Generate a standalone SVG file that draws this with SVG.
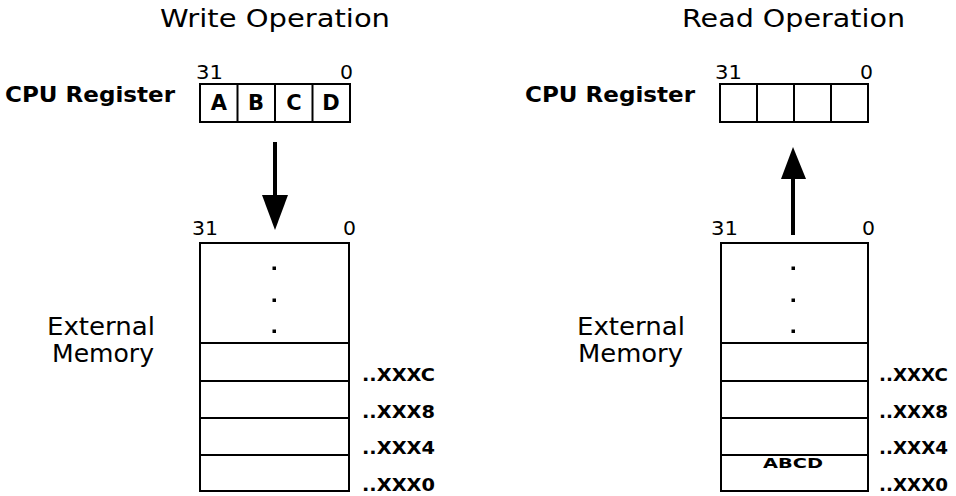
<svg xmlns="http://www.w3.org/2000/svg" width="956" height="496" viewBox="0 0 956 496">
<defs>
<style>
.title{font-family:"DejaVu Sans",Verdana,sans-serif;font-size:24px;fill:#000}
.lbl{font-family:"DejaVu Sans",Verdana,sans-serif;font-size:22px;font-weight:bold;fill:#000}
.mem{font-family:"DejaVu Sans",Verdana,sans-serif;font-size:24px;fill:#000}
.bit{font-family:"DejaVu Sans",sans-serif;font-size:19px;fill:#000}
.cell{font-family:"DejaVu Sans",Verdana,sans-serif;font-size:21px;font-weight:bold;fill:#000;text-anchor:middle}
.addr{font-family:"DejaVu Sans",Verdana,sans-serif;font-size:17px;font-weight:bold;fill:#000}
.data{font-family:"DejaVu Sans",Verdana,sans-serif;font-size:14px;font-weight:bold;fill:#000}
.box{fill:#fff;stroke:#000;stroke-width:2}
.ln{stroke:#000;stroke-width:2;fill:none}
.arrow{stroke:#000;stroke-width:4;fill:none}
.dot{fill:#000}
</style>
</defs>
<rect width="956" height="496" fill="#fff"/>

<g id="write-title"><text class="title" x="160" y="27" textLength="230" lengthAdjust="spacingAndGlyphs">Write Operation</text></g>
<g id="read-title"><text class="title" x="682" y="27" textLength="223" lengthAdjust="spacingAndGlyphs">Read Operation</text></g>

<g id="write-register">
<text class="lbl" x="5" y="102" textLength="170" lengthAdjust="spacingAndGlyphs">CPU Register</text>
<text class="bit" x="196" y="79" textLength="27" lengthAdjust="spacingAndGlyphs">31</text>
<text class="bit" x="340" y="79" textLength="13" lengthAdjust="spacingAndGlyphs">0</text>
<rect class="box" x="200" y="84" width="150" height="38"/>
<line class="ln" x1="237.5" y1="84" x2="237.5" y2="122"/>
<line class="ln" x1="275" y1="84" x2="275" y2="122"/>
<line class="ln" x1="312.5" y1="84" x2="312.5" y2="122"/>
<text class="cell" x="219" y="110">A</text>
<text class="cell" x="256" y="110">B</text>
<text class="cell" x="294" y="110">C</text>
<text class="cell" x="331" y="110">D</text>
</g>

<g id="read-register">
<text class="lbl" x="525" y="102" textLength="170" lengthAdjust="spacingAndGlyphs">CPU Register</text>
<text class="bit" x="715" y="79" textLength="27" lengthAdjust="spacingAndGlyphs">31</text>
<text class="bit" x="860" y="79" textLength="13" lengthAdjust="spacingAndGlyphs">0</text>
<rect class="box" x="720" y="84" width="148" height="38"/>
<line class="ln" x1="757" y1="84" x2="757" y2="122"/>
<line class="ln" x1="794" y1="84" x2="794" y2="122"/>
<line class="ln" x1="831" y1="84" x2="831" y2="122"/>
</g>

<g id="write-memory">
<text class="mem" x="47" y="335" textLength="108" lengthAdjust="spacingAndGlyphs">External</text>
<text class="mem" x="52" y="362" textLength="102" lengthAdjust="spacingAndGlyphs">Memory</text>
<text class="bit" x="192" y="235" textLength="26" lengthAdjust="spacingAndGlyphs">31</text>
<text class="bit" x="343" y="235" textLength="13" lengthAdjust="spacingAndGlyphs">0</text>
<rect class="box" x="200" y="243" width="149" height="248"/>
<line class="ln" x1="200" y1="343" x2="349" y2="343"/>
<line class="ln" x1="200" y1="381" x2="349" y2="381"/>
<line class="ln" x1="200" y1="418" x2="349" y2="418"/>
<line class="ln" x1="200" y1="455" x2="349" y2="455"/>
<rect class="dot" x="272.5" y="266.5" width="3.5" height="3.5"/>
<rect class="dot" x="272.5" y="298.5" width="3.5" height="3.5"/>
<rect class="dot" x="272.5" y="329.5" width="3.5" height="3.5"/>
<text class="addr" x="362" y="381" textLength="73" lengthAdjust="spacingAndGlyphs">..XXXC</text>
<text class="addr" x="362" y="418" textLength="73" lengthAdjust="spacingAndGlyphs">..XXX8</text>
<text class="addr" x="362" y="454" textLength="73" lengthAdjust="spacingAndGlyphs">..XXX4</text>
<text class="addr" x="362" y="491" textLength="73" lengthAdjust="spacingAndGlyphs">..XXX0</text>
</g>

<g id="read-memory">
<text class="mem" x="577" y="335" textLength="108" lengthAdjust="spacingAndGlyphs">External</text>
<text class="mem" x="578" y="362" textLength="105" lengthAdjust="spacingAndGlyphs">Memory</text>
<text class="bit" x="711" y="235" textLength="27" lengthAdjust="spacingAndGlyphs">31</text>
<text class="bit" x="862" y="235" textLength="13" lengthAdjust="spacingAndGlyphs">0</text>
<rect class="box" x="721" y="243" width="147" height="248"/>
<line class="ln" x1="721" y1="343" x2="868" y2="343"/>
<line class="ln" x1="721" y1="381" x2="868" y2="381"/>
<line class="ln" x1="721" y1="418" x2="868" y2="418"/>
<line class="ln" x1="721" y1="455" x2="868" y2="455"/>
<rect class="dot" x="791.5" y="266.5" width="3.5" height="3.5"/>
<rect class="dot" x="791.5" y="298.5" width="3.5" height="3.5"/>
<rect class="dot" x="791.5" y="329.5" width="3.5" height="3.5"/>
<text class="data" x="763" y="468" textLength="60" lengthAdjust="spacingAndGlyphs">ABCD</text>
<text class="addr" x="879" y="381" textLength="69" lengthAdjust="spacingAndGlyphs">..XXXC</text>
<text class="addr" x="879" y="418" textLength="69" lengthAdjust="spacingAndGlyphs">..XXX8</text>
<text class="addr" x="879" y="454" textLength="69" lengthAdjust="spacingAndGlyphs">..XXX4</text>
<text class="addr" x="879" y="491" textLength="69" lengthAdjust="spacingAndGlyphs">..XXX0</text>
</g>

<g id="connectors">
<line class="arrow" x1="275" y1="142" x2="275" y2="198"/>
<polygon points="262,195 288,195 275,230" fill="#000"/>
<line class="arrow" x1="793" y1="235" x2="793" y2="176"/>
<polygon points="781,179 806,179 793,147" fill="#000"/>
</g>
</svg>
